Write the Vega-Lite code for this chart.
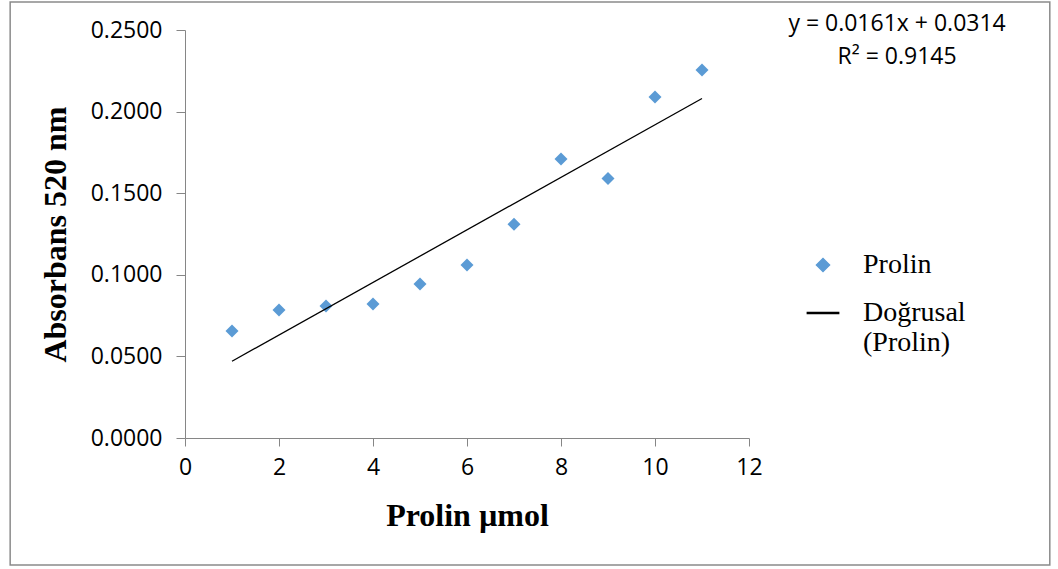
{
  "$schema": "https://vega.github.io/schema/vega-lite/v6.json",
  "width": 564,
  "height": 408,
  "autosize": {"type": "none"},
  "padding": {"left": 185, "top": 30, "right": 309, "bottom": 131},
  "background": "white",
  "config": {
    "view": {"stroke": null},
    "axis": {
      "grid": false,
      "domainColor": "#868686",
      "tickColor": "#868686",
      "labelFont": "Open Sans",
      "labelFontSize": 23,
      "labelColor": "black",
      "titleFont": "Liberation Serif",
      "titleFontSize": 32,
      "titleFontWeight": "bold",
      "titleColor": "black"
    }
  },
  "data": {
    "values": [
      {"x": 1, "y": 0.0656, "series": "Prolin"},
      {"x": 2, "y": 0.0784, "series": "Prolin"},
      {"x": 3, "y": 0.0809, "series": "Prolin"},
      {"x": 4, "y": 0.0821, "series": "Prolin"},
      {"x": 5, "y": 0.0944, "series": "Prolin"},
      {"x": 6, "y": 0.106, "series": "Prolin"},
      {"x": 7, "y": 0.131, "series": "Prolin"},
      {"x": 8, "y": 0.171, "series": "Prolin"},
      {"x": 9, "y": 0.159, "series": "Prolin"},
      {"x": 10, "y": 0.209, "series": "Prolin"},
      {"x": 11, "y": 0.2255, "series": "Prolin"}
    ]
  },
  "layer": [
    {
      "data": {"values": [{}]},
      "mark": {"type": "rect", "fill": "transparent", "stroke": "#8b8b8b", "strokeWidth": 1.5, "clip": false},
      "encoding": {
        "x": {"datum": -3.72, "type": "quantitative", "scale": {"domain": [0, 12], "nice": false}},
        "x2": {"datum": 18.4},
        "y": {"datum": -0.0778, "type": "quantitative", "scale": {"domain": [0, 0.25], "nice": false}},
        "y2": {"datum": 0.2672}
      }
    },
    {
      "mark": {"type": "point", "filled": true, "size": 170, "opacity": 1},
      "encoding": {
        "x": {
          "field": "x", "type": "quantitative",
          "scale": {"domain": [0, 12], "nice": false},
          "axis": {"values": [0, 2, 4, 6, 8, 10, 12], "tickSize": 8, "labelPadding": 10, "title": "Prolin µmol", "titlePadding": 21, "labelFlush": false}
        },
        "y": {
          "field": "y", "type": "quantitative",
          "scale": {"domain": [0, 0.25], "nice": false},
          "axis": {"values": [0, 0.05, 0.1, 0.15, 0.2, 0.25], "format": ".4f", "tickSize": 9, "labelPadding": 14, "title": "Absorbans 520 nm", "titlePadding": 18, "labelFlush": false}
        },
        "shape": {
          "field": "series", "type": "nominal",
          "scale": {"domain": ["Prolin", "Doğrusal (Prolin)"], "range": ["diamond", "M-2.4,-0.08L2.4,-0.08L2.4,0.08L-2.4,0.08Z"]},
          "legend": null
        },
        "color": {
          "field": "series", "type": "nominal",
          "scale": {"domain": ["Prolin", "Doğrusal (Prolin)"], "range": ["#5B9BD5", "#000000"]},
          "legend": {
            "title": null,
            "orient": "none",
            "legendX": 624,
            "legendY": 221,
            "padding": 0,
            "symbolSize": 170,
            "symbolOpacity": 1,
            "labelFont": "Liberation Serif",
            "labelFontSize": 28,
            "labelColor": "black",
            "labelLimit": 300,
            "labelOffset": 26,
            "rowPadding": 20,
            "labelExpr": "datum.label == 'Doğrusal (Prolin)' ? ['Doğrusal', '(Prolin)'] : datum.label"
          }
        }
      }
    },
    {
      "transform": [{"regression": "y", "on": "x", "extent": [1, 11]}],
      "mark": {"type": "line", "strokeWidth": 1.3},
      "encoding": {
        "x": {"field": "x", "type": "quantitative", "scale": {"domain": [0, 12], "nice": false}},
        "y": {"field": "y", "type": "quantitative", "scale": {"domain": [0, 0.25], "nice": false}},
        "color": {"datum": "Doğrusal (Prolin)"}
      }
    },
    {
      "data": {"values": [{}]},
      "mark": {"type": "text", "font": "Open Sans", "fontSize": 23, "align": "center", "baseline": "top", "lineHeight": 33, "color": "black", "clip": false},
      "encoding": {
        "x": {"datum": 15.15, "type": "quantitative"},
        "y": {"datum": 0.2604, "type": "quantitative"},
        "text": {"value": ["y = 0.0161x + 0.0314", "R² = 0.9145"]}
      }
    }
  ]
}
